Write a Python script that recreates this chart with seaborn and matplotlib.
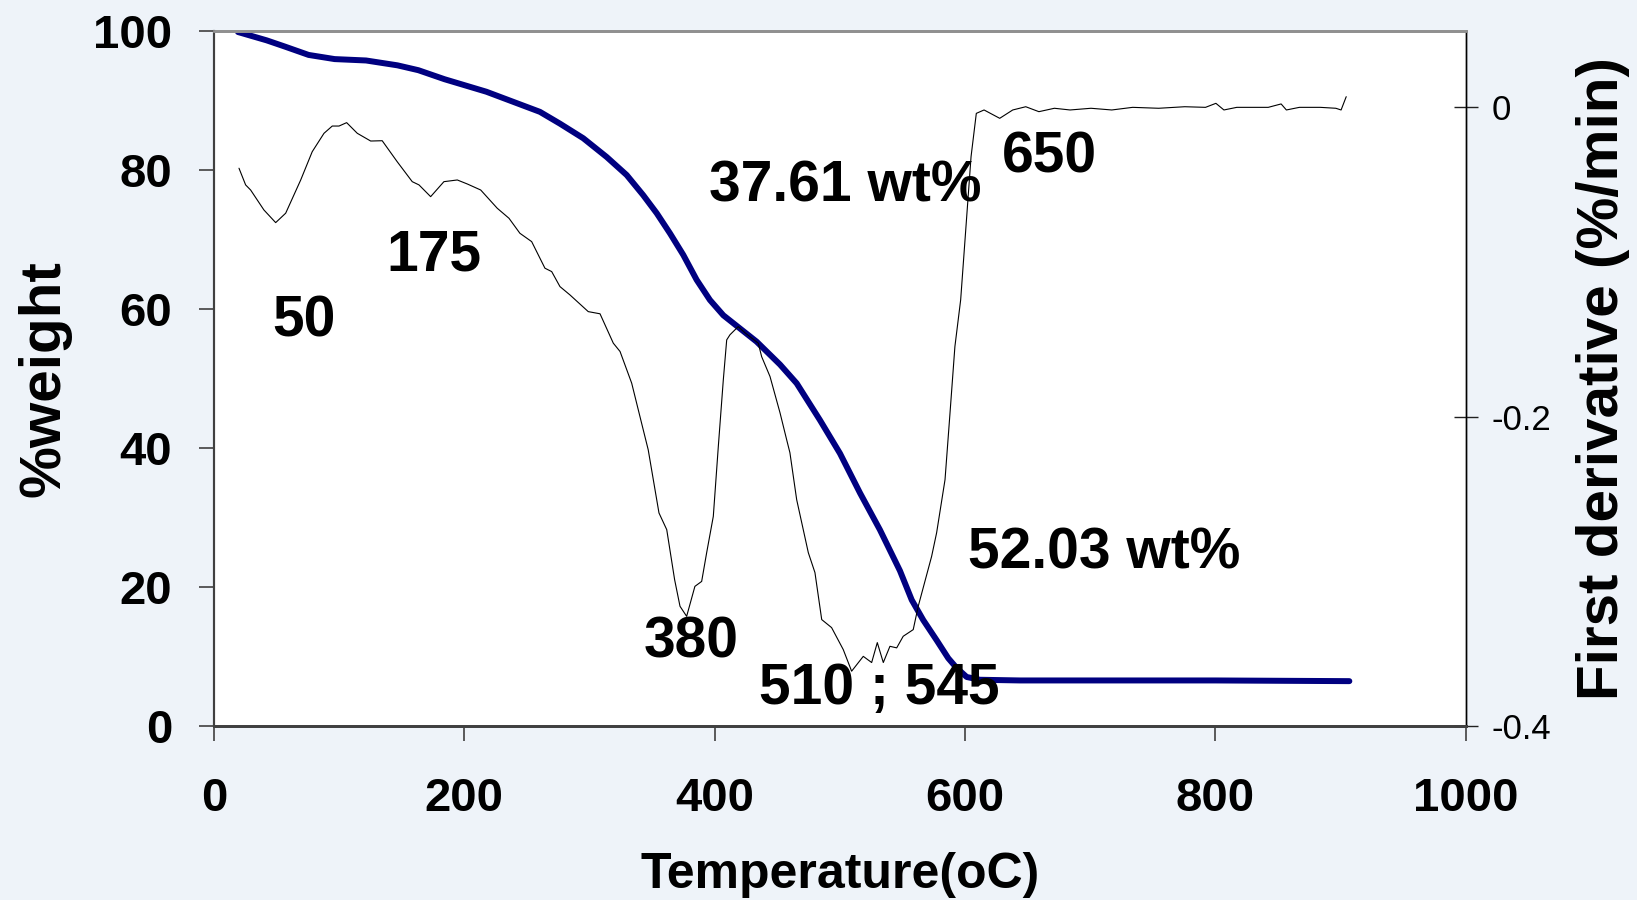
import matplotlib
matplotlib.use("Agg")
import matplotlib.pyplot as plt
import seaborn as sns

# ---- data ----
tga_temp = [19.2, 42.1, 56.7, 75.6, 96.4, 121.5, 146.6, 163.3, 184.2, 217.6, 260.4, 276.4,
            295.0, 313.7, 329.7, 342.9, 353.7, 364.3, 374.9, 385.6, 396.2, 406.9, 420.2,
            433.5, 452.2, 465.5, 484.1, 500.1, 516.1, 532.0, 548.0, 557.4, 566.6, 577.3,
            586.6, 593.3, 601.3, 611.9, 643.9, 700, 800, 907]
tga_weight = [99.9, 98.7, 97.8, 96.6, 96.0, 95.8, 95.1, 94.4, 93.1, 91.3, 88.4, 86.7,
              84.6, 81.9, 79.3, 76.4, 73.8, 70.9, 67.8, 64.2, 61.3, 59.1, 57.2,
              55.3, 52.0, 49.3, 44.0, 39.2, 33.5, 28.2, 22.3, 18.1, 15.2, 12.3,
              9.7, 8.3, 7.0, 6.6, 6.5, 6.5, 6.5, 6.4]

dtg_temp = [20.0, 25.3, 29.3, 39.9, 49.3, 57.3, 69.3, 78.5, 87.9, 94.5, 99.9, 106.0,
            114.5, 125.2, 134.4, 146.4, 158.4, 163.8, 173.1, 183.7, 194.4, 202.4, 213.1,
            226.3, 235.7, 244.4, 253.8, 264.4, 269.8, 276.4, 284.4, 299.0, 308.4, 319.0,
            324.4, 333.7, 340.3, 346.9, 355.5, 361.7, 368.0, 372.3, 377.6, 384.2, 389.6,
            393.6, 398.9, 402.9, 406.9, 409.6, 412.2, 418.8, 424.2, 434.8, 437.5, 444.2,
            452.2, 457.5, 460.1, 465.5, 474.8, 480.1, 485.5, 493.4, 502.7, 509.4, 518.7,
            525.4, 529.9, 534.7, 540.0, 545.4, 550.6, 558.6, 562.6, 573.3, 577.3, 584.0,
            588.0, 591.9, 596.5, 604.8, 609.0, 615.2, 627.7, 638.1, 648.5, 659.0, 671.4,
            683.9, 700.6, 717.2, 733.9, 754.7, 775.5, 792.1, 800.4, 806.8, 817.1, 842.2,
            852.5, 856.7, 867.1, 883.8, 896.2, 900.4, 904.5]
dtg_value = [-0.0393, -0.0501, -0.0534, -0.0663, -0.0745, -0.0684, -0.0469, -0.0286, -0.0167,
             -0.0120, -0.0120, -0.0098, -0.0167, -0.0217, -0.0215, -0.0351, -0.0480, -0.0501,
             -0.0577, -0.0480, -0.0469, -0.0495, -0.0534, -0.0652, -0.0717, -0.0814, -0.0868,
             -0.1040, -0.1062, -0.1159, -0.1213, -0.1321, -0.1335, -0.1525, -0.1579, -0.1784,
             -0.2000, -0.2215, -0.2624, -0.2732, -0.3056, -0.3228, -0.3293, -0.3099, -0.3067,
             -0.2881, -0.2646, -0.2194, -0.1762, -0.1504, -0.1471, -0.1418, -0.1458, -0.1525,
             -0.1612, -0.1741, -0.1976, -0.2150, -0.2234, -0.2538, -0.2881, -0.3010, -0.3314,
             -0.3366, -0.3508, -0.3648, -0.3552, -0.3592, -0.3463, -0.3592, -0.3487, -0.3497,
             -0.3422, -0.3379, -0.3228, -0.2905, -0.2752, -0.2409, -0.1976, -0.1547, -0.1245,
             -0.0318, -0.0038, -0.0016, -0.0070, -0.0016, 0.0005, -0.0027, -0.0005, -0.0016,
             -0.0005, -0.0016, 0.0001, -0.0005, 0.0005, 0.0001, 0.0027, -0.0016, 0.0001,
             0.0001, 0.0023, -0.0016, 0.0001, 0.0001, -0.0005, -0.0016, 0.0070]

annot_text = ["50", "175", "37.61 wt%", "650", "52.03 wt%", "380", "510 ; 545"]
annot_temp = [71.7, 175.7, 504.6, 667.2, 711.5, 381.1, 531.2]
annot_weight = [58.2, 67.7, 77.7, 81.8, 24.8, 12.0, 5.3]

x_ticks = [0, 200, 400, 600, 800, 1000]
left_ticks = [0, 20, 40, 60, 80, 100]
right_ticks = [-0.4, -0.2, 0]
right_tick_labels = ["-0.4", "-0.2", "0"]

# ---- styling ----
sns.set_theme(style="white")
plt.rcParams["font.family"] = ["Liberation Sans", "DejaVu Sans"]
plt.rcParams["text.color"] = "black"
plt.rcParams["axes.labelcolor"] = "black"
plt.rcParams["xtick.color"] = "black"
plt.rcParams["ytick.color"] = "black"

fig = plt.figure(figsize=(16.37, 9.0), dpi=100, facecolor="#eef3f9")
ax = fig.add_axes([0.1307, 0.1938, 0.7647, 0.7714])
ax.set_facecolor("white")
ax2 = ax.twinx()

sns.lineplot(x=tga_temp, y=tga_weight, ax=ax, color="#000080", linewidth=4.3,
             sort=False, estimator=None, solid_capstyle="round", solid_joinstyle="round")
sns.lineplot(x=dtg_temp, y=dtg_value, ax=ax2, color="black", linewidth=0.8,
             sort=False, estimator=None)

ax.set_xlim(0, 1000)
ax.set_ylim(0, 100)
ax2.set_ylim(-0.4, 0.0493)

ax.set_xticks(x_ticks)
ax.set_xticklabels([str(t) for t in x_ticks], fontsize=34, fontweight="bold", color="black")
ax.set_yticks(left_ticks)
ax.set_yticklabels([str(t) for t in left_ticks], fontsize=34, fontweight="bold", color="black")
ax2.set_yticks(right_ticks)
ax2.set_yticklabels(right_tick_labels, fontsize=25, color="black")

ax.tick_params(axis="x", direction="out", length=11, width=1.2, color="#404040",
               pad=26, bottom=True, top=False)
ax.tick_params(axis="y", direction="out", length=11, width=1.2, color="#404040",
               pad=19, left=True, right=False)
ax2.tick_params(axis="y", direction="inout", length=17, width=1.0, color="#202020",
                pad=10, right=True, left=False)

for a in (ax, ax2):
    a.grid(False)
    a.spines["top"].set_color("#909090")
    a.spines["top"].set_linewidth(2)
    a.spines["bottom"].set_color("#404040")
    a.spines["bottom"].set_linewidth(2)
    a.spines["left"].set_color("#404040")
    a.spines["left"].set_linewidth(1.5)
    a.spines["right"].set_color("black")
    a.spines["right"].set_linewidth(1.0)

ax.set_xlabel("Temperature(oC)", fontsize=36, fontweight="bold", va="center", color="black")
ax.xaxis.set_label_coords(0.5, -0.215)
ax.set_ylabel("%weight", fontsize=42, fontweight="bold", va="center", color="black")
ax.yaxis.set_label_coords(-0.135, 0.5)
ax2.set_ylabel("First derivative (%/min)", fontsize=42, fontweight="bold",
               va="center", rotation=90, color="black")
ax2.yaxis.set_label_coords(1.1096, 0.5)

for txt, tx, ty in zip(annot_text, annot_temp, annot_weight):
    ax2.text(tx, ty, txt, transform=ax.transData, fontsize=41, fontweight="bold",
             ha="center", va="center", color="black", zorder=5)

fig.savefig("out.png", dpi=100, facecolor=fig.get_facecolor())
